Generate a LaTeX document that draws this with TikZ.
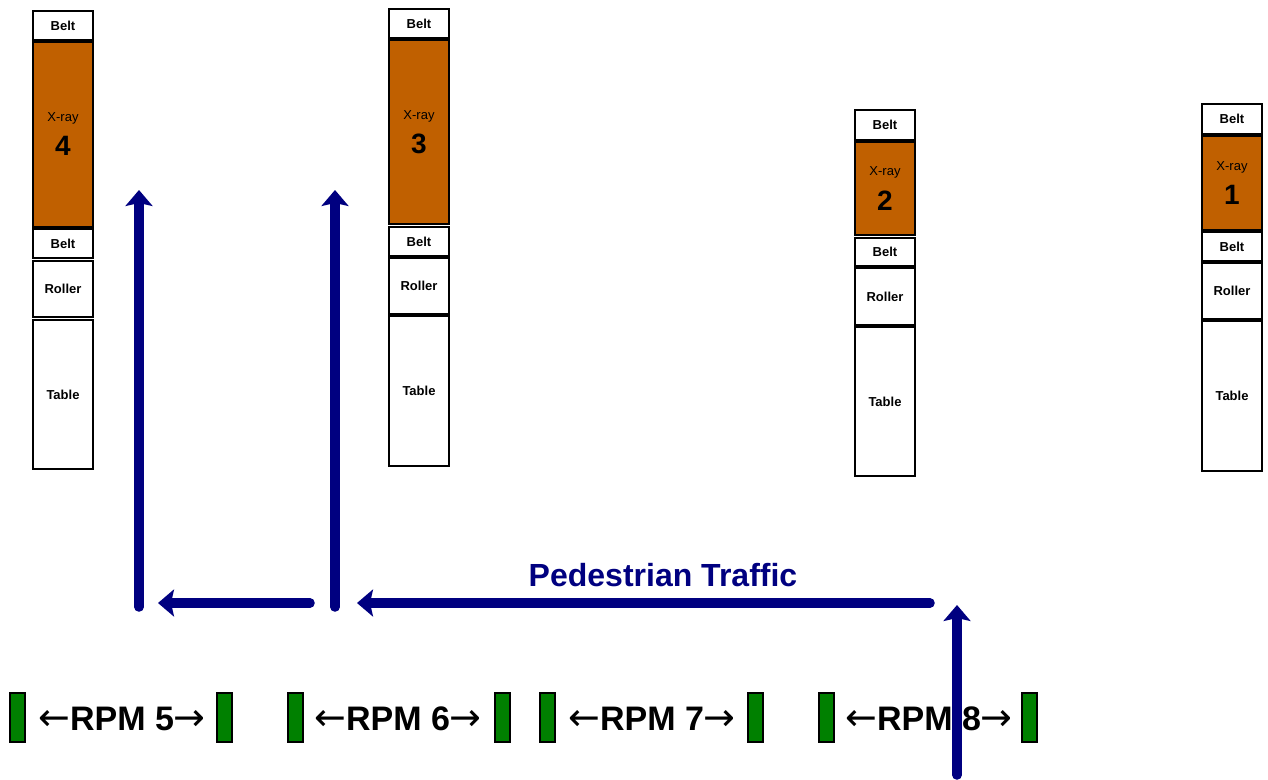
\documentclass[tikz,border=0pt]{standalone}
\usepackage{fontspec}
\setmainfont{Liberation Sans}
\newfontfamily\arrowfont{DejaVu Sans}
\usetikzlibrary{arrows.meta}
\definecolor{xorange}{RGB}{192,96,0}
\definecolor{rpmgreen}{RGB}{0,128,0}
\definecolor{trafficblue}{RGB}{0,0,128}
\tikzset{
  part/.style={draw=black, line width=2.5pt, fill=white, minimum width=60pt, inner sep=0pt, align=center, font=\bfseries\fontsize{13}{15}\selectfont},
  xray/.style={part, fill=xorange},
  sensor/.style={draw=black, line width=2pt, fill=rpmgreen, minimum width=15pt, minimum height=49pt, inner sep=0pt},
  rpm/.style={font=\bfseries\fontsize{34}{36}\selectfont, inner sep=0pt},
  flow/.style={draw=trafficblue, line width=9.5pt, line cap=round, -{Stealth[length=16pt, width=27pt, inset=3pt]}},
}
\newcommand{\xlab}[1]{{\mdseries\fontsize{13}{14}\selectfont X-ray}\\[11pt]{\fontsize{28}{30}\selectfont\bfseries #1}}
\newcommand{\la}{{\arrowfont\mdseries\fontsize{38}{38}\selectfont ←}}
\newcommand{\ra}{{\arrowfont\mdseries\fontsize{38}{38}\selectfont →}}
\begin{document}
\begin{tikzpicture}[x=1pt, y=-1pt]
\useasboundingbox (0,0) rectangle (1268,779);
% Lane 4
\node[part, minimum height=29pt] (b4a) at (63,25.5) {Belt};
\node[xray, minimum height=185pt] (x4) at (63,134.5) {\xlab{4}};
\node[part, minimum height=29pt] (b4b) at (63,243.5) {Belt};
\node[part, minimum height=56pt] (r4) at (63,289) {Roller};
\node[part, minimum height=149pt] (t4) at (63,394.5) {Table};
% Lane 3
\node[part, minimum height=29pt] (b3a) at (419,23.5) {Belt};
\node[xray, minimum height=184pt] (x3) at (419,132) {\xlab{3}};
\node[part, minimum height=29pt] (b3b) at (419,241.5) {Belt};
\node[part, minimum height=56pt] (r3) at (419,286) {Roller};
\node[part, minimum height=150pt] (t3) at (419,391) {Table};
% Lane 2
\node[part, minimum height=30pt] (b2a) at (885,125) {Belt};
\node[xray, minimum height=93pt] (x2) at (885,188.5) {\xlab{2}};
\node[part, minimum height=28pt] (b2b) at (885,252) {Belt};
\node[part, minimum height=57pt] (r2) at (885,296.5) {Roller};
\node[part, minimum height=149pt] (t2) at (885,401.5) {Table};
% Lane 1
\node[part, minimum height=30pt] (b1a) at (1232,119) {Belt};
\node[xray, minimum height=94pt] (x1) at (1232,183) {\xlab{1}};
\node[part, minimum height=29pt] (b1b) at (1232,246.5) {Belt};
\node[part, minimum height=56pt] (r1) at (1232,291) {Roller};
\node[part, minimum height=150pt] (t1) at (1232,396) {Table};
% RPM sensors
\node[sensor] (s5a) at (17.5,717.5) {};
\node[sensor] (s5b) at (224.5,717.5) {};
\node[sensor] (s6a) at (295.5,717.5) {};
\node[sensor] (s6b) at (502.5,717.5) {};
\node[sensor] (s7a) at (547,717.5) {};
\node[sensor] (s7b) at (755,717.5) {};
\node[sensor] (s8a) at (826,717.5) {};
\node[sensor] (s8b) at (1029.5,717.5) {};
\node[rpm] (rpm5) at (122,719) {\la RPM 5\ra};
\node[rpm] (rpm6) at (398,719) {\la RPM 6\ra};
\node[rpm] (rpm7) at (652,719) {\la RPM 7\ra};
\node[rpm] (rpm8) at (929,719) {\la RPM 8\ra};
% Traffic
\node[font=\bfseries\fontsize{32}{34}\selectfont, text=trafficblue, inner sep=0pt] (ped) at (663,575) {Pedestrian Traffic};
\coordinate (e0) at (957,775);
\coordinate (e1) at (957,605);
\coordinate (h1s) at (930,603);
\coordinate (h1e) at (357,603);
\coordinate (u2s) at (335,607);
\coordinate (u2e) at (335,190);
\coordinate (h2s) at (310,603);
\coordinate (h2e) at (158,603);
\coordinate (u1s) at (139,607);
\coordinate (u1e) at (139,190);
\draw[flow] (e0) -- (e1);
\draw[flow] (h1s) -- (h1e);
\draw[flow] (u2s) -- (u2e);
\draw[flow] (h2s) -- (h2e);
\draw[flow] (u1s) -- (u1e);
\end{tikzpicture}
\end{document}
